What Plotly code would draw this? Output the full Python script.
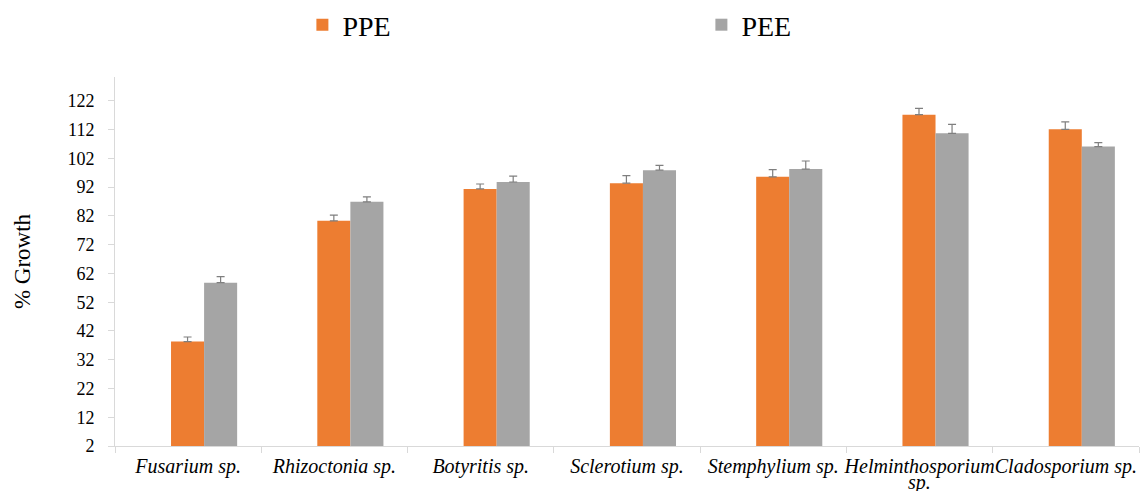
import plotly.graph_objects as go

categories = ["Fusarium sp.", "Rhizoctonia sp.", "Botyritis sp.", "Sclerotium sp.",
              "Stemphylium sp.", "Helminthosporium sp.", "Cladosporium sp."]
tick_labels = ["Fusarium sp.", "Rhizoctonia sp.", "Botyritis sp.", "Sclerotium sp.",
               "Stemphylium sp.", "Helminthosporium", "Cladosporium sp."]
wrapped_label = {"category": "Helminthosporium sp.", "second_line": "sp."}
ppe = [38.3, 80.3, 91.4, 93.4, 95.6, 117.2, 112.1]
ppe_err = [1.6, 2.0, 1.7, 2.6, 2.5, 2.2, 2.6]
pee = [58.8, 86.9, 93.8, 97.9, 98.3, 110.7, 106.1]
pee_err = [2.1, 1.7, 2.0, 1.7, 2.8, 3.1, 1.4]
y_ticks = [2, 12, 22, 32, 42, 52, 62, 72, 82, 92, 102, 112, 122]
AXIS_BASE = 2

FONT = "Liberation Serif"
BAR_W = 0.226      # bar width, in category units
SHIFT = 0.109      # bars sit slightly right of the category centre

fig = go.Figure()
for name, vals, errs, col, off in [("PPE", ppe, ppe_err, "#ED7D31", SHIFT - BAR_W),
                                   ("PEE", pee, pee_err, "#A5A5A5", SHIFT)]:
    fig.add_trace(go.Bar(
        name=name, x=categories, y=[v - AXIS_BASE for v in vals], base=AXIS_BASE,
        marker_color=col, marker_line_width=0, width=BAR_W, offset=off,
        error_y=dict(type="data", array=errs, symmetric=False,
                     arrayminus=[0] * len(errs),
                     color="#7f7f7f", thickness=1.2, width=4),
    ))

fig.add_annotation(
    x=wrapped_label["category"], xref="x", y=-0.1, yref="paper",
    yanchor="middle", text=wrapped_label["second_line"], showarrow=False,
    font=dict(size=20, family=FONT, style="italic"),
)

fig.update_layout(
    width=1145, height=491,
    margin=dict(l=115, r=6, t=77, b=45, autoexpand=False),
    plot_bgcolor="white", paper_bgcolor="white",
    barmode="overlay",
    font=dict(family=FONT, color="#000000"),
    showlegend=True,
    legend=dict(orientation="h", x=0.183, xanchor="left", y=1.0, yref="container",
                yanchor="top", font=dict(size=28, family=FONT),
                entrywidth=354, entrywidthmode="pixels", itemsizing="constant",
                itemwidth=30),
)
fig.update_xaxes(
    type="category", showline=True, linecolor="#d9d9d9", linewidth=1,
    ticks="outside", tickson="boundaries", ticklen=6, tickcolor="#d9d9d9",
    tickvals=categories, ticktext=tick_labels,
    tickfont=dict(size=20, family=FONT, style="italic"), showgrid=False,
    tickangle=0, ticklabelstandoff=2,
)
fig.update_yaxes(
    range=[2, 130.3], tickvals=y_ticks, showline=True, linecolor="#d9d9d9",
    linewidth=1, ticks="outside", ticklen=6, tickcolor="#d9d9d9",
    tickfont=dict(size=18, family=FONT), showgrid=False, zeroline=False,
    ticklabelstandoff=10,
    title=dict(text="% Growth", font=dict(size=23, family=FONT), standoff=30),
)
fig.write_html("out.html", config={"displayModeBar": False},
               post_script="document.body.style.margin='0px';")
